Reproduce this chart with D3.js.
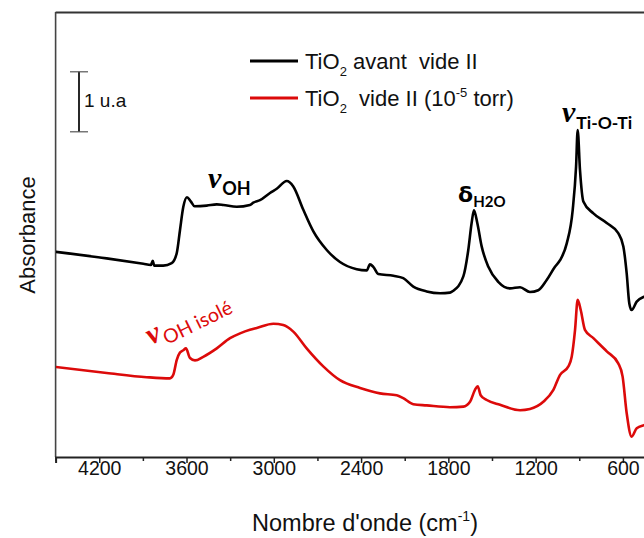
<!DOCTYPE html>
<html><head><meta charset="utf-8">
<script src="https://cdn.jsdelivr.net/npm/d3@7"></script>
<style>html,body{margin:0;padding:0;background:#fff;overflow:hidden}</style>
</head><body>
<svg id="c" width="644" height="538"></svg>
<script>
// Black spectrum: TiO2 avant vide II
const wnBlack = [4500,4149,3897,3845,3832,3822,3760,3702,3667,3645,3622,3597,3571,3545,3461,3392,3347,3255,3164,3141,3095,3026,2980,2911,2866,2797,2728,2636,2545,2430,2361,2339,2316,2282,2178,2110,2041,1949,1857,1789,1766,1697,1663,1640,1624,1601,1571,1525,1457,1376,1307,1239,1182,1124,1067,1032,986,945,922,911,895,872,803,711,632,597,574,556,540,505,455,400];
const absBlack = [3.42,3.31,3.22,3.20,3.27,3.19,3.19,3.23,3.40,3.78,4.17,4.33,4.26,4.18,4.19,4.21,4.20,4.17,4.20,4.24,4.28,4.40,4.47,4.60,4.51,4.12,3.76,3.45,3.25,3.13,3.11,3.21,3.17,3.05,3.02,2.98,2.84,2.76,2.73,2.74,2.77,3.01,3.45,3.90,4.11,3.90,3.51,3.17,2.92,2.81,2.83,2.75,2.78,2.95,3.17,3.28,3.56,4.12,4.84,5.45,4.78,4.26,4.06,3.90,3.73,3.51,3.06,2.56,2.45,2.59,2.67,2.70];
// Red spectrum: TiO2 vide II (10^-5 torr)
const wnRed = [4500,4149,3874,3714,3691,3667,3645,3622,3604,3576,3542,3485,3392,3301,3232,3164,3117,3003,2935,2866,2774,2660,2545,2407,2270,2155,2110,2041,1949,1789,1697,1651,1617,1598,1578,1536,1445,1307,1239,1147,1078,1032,975,952,929,911,890,861,803,711,632,602,574,540,505,455,400];
const absRed = [1.50,1.40,1.33,1.31,1.37,1.62,1.74,1.78,1.81,1.65,1.61,1.67,1.81,1.98,2.06,2.12,2.15,2.22,2.20,2.09,1.81,1.51,1.28,1.15,1.06,1.03,0.98,0.88,0.86,0.83,0.84,0.92,1.12,1.18,1.03,0.95,0.87,0.78,0.80,0.92,1.12,1.37,1.51,1.67,2.12,2.62,2.45,2.12,1.98,1.76,1.56,1.34,0.73,0.34,0.48,0.53,0.56];
const majorTicks = [4200,3600,3000,2400,1800,1200,600];
const minorTicks = [4500,3900,3300,2700,2100,1500,900];
const legendLabels = [" avant  vide II", "  vide II (10"];

const svg = d3.select("#c");
const x = d3.scaleLinear().domain([4500, 400]).range([55.6, 652]);
const y = d3.scaleLinear().domain([0, 7.4]).range([457, 13]);
const FONT = "'Liberation Sans', Arial, sans-serif";
const AFONT = "Lato, 'Open Sans', sans-serif";
const RED = "#dc0a0a";

svg.append("defs").append("clipPath").attr("id","clip")
  .append("rect").attr("x",56).attr("y",12).attr("width",600).attr("height",445);

// frame
svg.append("line").attr("x1",55.6).attr("x2",644).attr("y1",12.5).attr("y2",12.5)
  .attr("stroke","#333").attr("stroke-width",2);
svg.append("line").attr("x1",55.6).attr("x2",55.6).attr("y1",12).attr("y2",457)
  .attr("stroke","#444").attr("stroke-width",1.6);

// x axis
const gx = svg.append("g").attr("transform","translate(0,457)");
gx.call(d3.axisBottom(x).tickValues(majorTicks).tickSize(6).tickFormat(d3.format("d")));
gx.select(".domain").attr("stroke","#222").attr("stroke-width",2);
gx.selectAll(".tick line").attr("stroke","#222").attr("stroke-width",1.5);
gx.selectAll(".tick text").attr("font-family",FONT).attr("font-size",19.5).attr("fill","#111")
  .attr("dy",0).attr("y",18);
const gm = svg.append("g").attr("transform","translate(0,457)");
gm.call(d3.axisBottom(x).tickValues(minorTicks).tickSize(4).tickFormat(""));
gm.select(".domain").remove();
gm.selectAll(".tick line").attr("stroke","#222").attr("stroke-width",1.5);

// axis titles
const xt = svg.append("text").attr("x",365).attr("y",531).attr("text-anchor","middle")
  .attr("font-family",FONT).attr("font-size",23.5).attr("fill","#111");
xt.append("tspan").text("Nombre d'onde (cm");
xt.append("tspan").attr("font-size",14).attr("dy",-10).text("-1");
xt.append("tspan").attr("dy",10).text(")");
svg.append("text").attr("transform","translate(35,235) rotate(-90)").attr("text-anchor","middle")
  .attr("font-family",FONT).attr("font-size",22).attr("fill","#111").text("Absorbance");

// curves
const line = d3.line().x(d=>x(d[0])).y(d=>y(d[1])).curve(d3.curveMonotoneX);
const plot = svg.append("g").attr("clip-path","url(#clip)");
plot.append("path").datum(wnRed.map((w,i)=>[w,absRed[i]])).attr("d",line)
  .attr("fill","none").attr("stroke",RED).attr("stroke-width",2.6).attr("stroke-linejoin","round");
plot.append("path").datum(wnBlack.map((w,i)=>[w,absBlack[i]])).attr("d",line)
  .attr("fill","none").attr("stroke","#000").attr("stroke-width",2.6).attr("stroke-linejoin","round");

// scale bar 1 u.a
const sb = svg.append("g");
const sbx = 79, sbTop = y(6.42), sbBot = y(5.42);
sb.append("line").attr("x1",sbx).attr("x2",sbx).attr("y1",sbTop).attr("y2",sbBot).attr("stroke","#111").attr("stroke-width",1.8);
sb.append("line").attr("x1",sbx-9).attr("x2",sbx+9).attr("y1",sbTop).attr("y2",sbTop).attr("stroke","#555").attr("stroke-width",1.2);
sb.append("line").attr("x1",sbx-9).attr("x2",sbx+9).attr("y1",sbBot).attr("y2",sbBot).attr("stroke","#555").attr("stroke-width",1.2);
sb.append("text").attr("x",84).attr("y",107).attr("font-family",FONT).attr("font-size",19).attr("fill","#111").text("1 u.a");

// legend
const lg = svg.append("g");
lg.append("line").attr("x1",250).attr("x2",298).attr("y1",61).attr("y2",61).attr("stroke","#000").attr("stroke-width",2.8);
lg.append("line").attr("x1",250).attr("x2",298).attr("y1",98).attr("y2",98).attr("stroke",RED).attr("stroke-width",2.8);
const t1 = lg.append("text").attr("x",305).attr("y",69).attr("font-family",FONT).attr("font-size",22).attr("fill","#111").style("white-space","pre");
t1.append("tspan").text("TiO");
t1.append("tspan").attr("font-size",13).attr("dy",7).text("2");
t1.append("tspan").attr("dy",-7).text(legendLabels[0]);
const t2 = lg.append("text").attr("x",305).attr("y",106).attr("font-family",FONT).attr("font-size",22).attr("fill","#111").style("white-space","pre");
t2.append("tspan").text("TiO");
t2.append("tspan").attr("font-size",13).attr("dy",7).text("2");
t2.append("tspan").attr("dy",-7).text(legendLabels[1]);
t2.append("tspan").attr("font-size",13).attr("dy",-9).text("-5");
t2.append("tspan").attr("dy",9).text(" torr)");

// annotations
function ann(g, xx, yy, sub, color, subSize, subBold){
  const t = g.append("text").attr("x",xx).attr("y",yy).attr("fill",color);
  t.append("tspan").attr("font-family","'Liberation Serif', 'DejaVu Serif', serif").attr("font-style","italic")
    .attr("font-weight","bold").attr("font-size",30).text("ν");
  t.append("tspan").attr("font-family",AFONT).attr("font-weight",subBold?"bold":"normal")
    .attr("font-size",subSize).attr("dy",7).attr("dx",1).text(sub);
  return t;
}
ann(svg, 208, 188, "OH", "#000", 18, true);
ann(svg, 562, 122, "Ti-O-Ti", "#000", 17.5, true);
const dl = svg.append("text").attr("x",458).attr("y",202).attr("fill","#000");
dl.append("tspan").attr("font-family","'DejaVu Sans', sans-serif").attr("font-weight","bold").attr("font-size",22).text("δ");
dl.append("tspan").attr("font-family",AFONT).attr("font-weight","bold").attr("font-size",15).attr("dy",5).text("H2O");
const rg = svg.append("g").attr("transform","translate(151,345) rotate(-26)");
ann(rg, 0, 0, "OH isolé", RED, 19.5, false);
</script>
</body></html>
